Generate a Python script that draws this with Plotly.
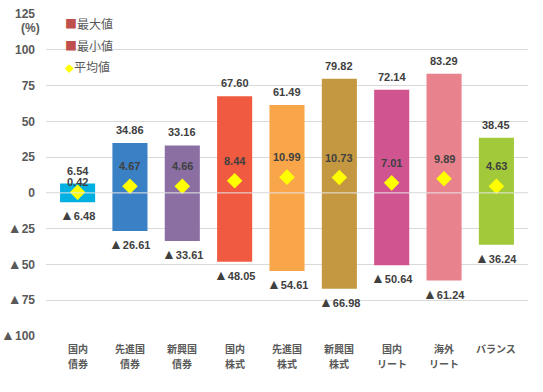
import plotly.graph_objects as go

categories = ["国内債券", "先進国債券", "新興国債券", "国内株式", "先進国株式",
              "新興国株式", "国内リート", "海外リート", "バランス"]
tick_labels = ["国内<br>債券", "先進国<br>債券", "新興国<br>債券", "国内<br>株式", "先進国<br>株式",
               "新興国<br>株式", "国内<br>リート", "海外<br>リート", "バランス"]
max_values = [6.54, 34.86, 33.16, 67.60, 61.49, 79.82, 72.14, 83.29, 38.45]
min_values = [-6.48, -26.61, -33.61, -48.05, -54.61, -66.98, -50.64, -61.24, -36.24]
mean_values = [0.42, 4.67, 4.66, 8.44, 10.99, 10.73, 7.01, 9.89, 4.63]
y_tick_values = [125, 100, 75, 50, 25, 0, -25, -50, -75, -100]
y_tick_numbers = ["125", "100", "75", "50", "25", "0", "25", "50", "75", "100"]

bar_colors = ["#00B0E0", "#3A80C4", "#8B6FA3", "#F05A40", "#F9A64A",
              "#C49840", "#CF5490", "#E8838E", "#A2C93A"]

NUM_FONT = "Liberation Sans, Arial, sans-serif"
JP_FONT = "Noto Sans CJK JP, sans-serif"
TXT = "#404040"
AX = "#595959"
TRI = "<span style='font-size:14px'>▲</span>"

y_tick_labels = [(TRI if v < 0 else "") + s for v, s in zip(y_tick_values, y_tick_numbers)]

fig = go.Figure()
fig.add_trace(go.Bar(
    x=categories,
    y=[mx - mn for mx, mn in zip(max_values, min_values)],
    base=min_values,
    marker=dict(color=bar_colors, line=dict(width=0)),
    showlegend=False,
    hoverinfo="skip",
))
fig.add_trace(go.Scatter(
    x=categories, y=mean_values, mode="markers",
    marker=dict(symbol="diamond", color="#FFFF00", size=12, line=dict(width=0)),
    showlegend=False,
))

annotations = []
mean_shift = [10, 20, 20, 20, 20, 20, 20, 20, 20]
lab_font = dict(family=NUM_FONT, size=11, color=TXT, weight="bold")
for i, c in enumerate(categories):
    annotations.append(dict(x=c, y=max_values[i], text=f"{max_values[i]:.2f}", showarrow=False,
                            yshift=13, font=lab_font))
    annotations.append(dict(x=c, y=min_values[i], text=f"{TRI}{abs(min_values[i]):.2f}", showarrow=False,
                            yshift=-13, font=lab_font))
    annotations.append(dict(x=c, y=mean_values[i], text=f"{mean_values[i]:.2f}", showarrow=False,
                            yshift=mean_shift[i], font=lab_font))
    # category labels (one annotation per line)
    for j, line in enumerate(tick_labels[i].split("<br>")):
        annotations.append(dict(x=c, xref="x", yref="paper", y=0, yanchor="middle",
                                yshift=-12 - 15 * j, text=line, showarrow=False,
                                font=dict(family=JP_FONT, size=10, color=AX, weight="bold")))

# (%) unit label
annotations.append(dict(xref="paper", yref="paper", x=-0.008, y=0.955, xanchor="right", yanchor="middle",
                        text="(%)", showarrow=False,
                        font=dict(family=NUM_FONT, size=12, color=AX, weight="bold")))
# legend
legend_items = [("最大値", "#C0504D", "■"), ("最小値", "#C0504D", "■"), ("平均値", "#FFFF00", "◆")]
for k, (name, col, sym) in enumerate(legend_items):
    size = 12 if sym == "■" else 9
    annotations.append(dict(xref="paper", yref="paper", x=0.036, y=0.969 - k * 0.066,
                            xanchor="left", yanchor="middle", showarrow=False,
                            text=f"<span style='color:{col};font-size:{size}px'>{sym}</span>{name}",
                            font=dict(family=JP_FONT, size=12, color=AX)))

fig.add_shape(type="line", xref="paper", x0=0, x1=1, y0=0, y1=0,
              line=dict(color="#E6E6E6", width=1), layer="above")

fig.update_layout(
    width=543, height=392,
    margin=dict(l=46, r=15, t=14, b=56),
    paper_bgcolor="white", plot_bgcolor="white",
    bargap=0.33,
    annotations=annotations,
    xaxis=dict(showticklabels=False, showgrid=False, showline=False,
               ticks="", automargin=False),
    yaxis=dict(range=[-100, 125], tickvals=y_tick_values, ticktext=y_tick_labels,
               showgrid=True, gridcolor="#D9D9D9", gridwidth=1, zeroline=False,
               showline=False, ticks="", ticklabelstandoff=10, automargin=False,
               tickfont=dict(family=NUM_FONT, size=12, color=AX, weight="bold")),
)

fig.write_html("out.html", config={"displayModeBar": False},
               post_script="document.body.style.margin='0';")
